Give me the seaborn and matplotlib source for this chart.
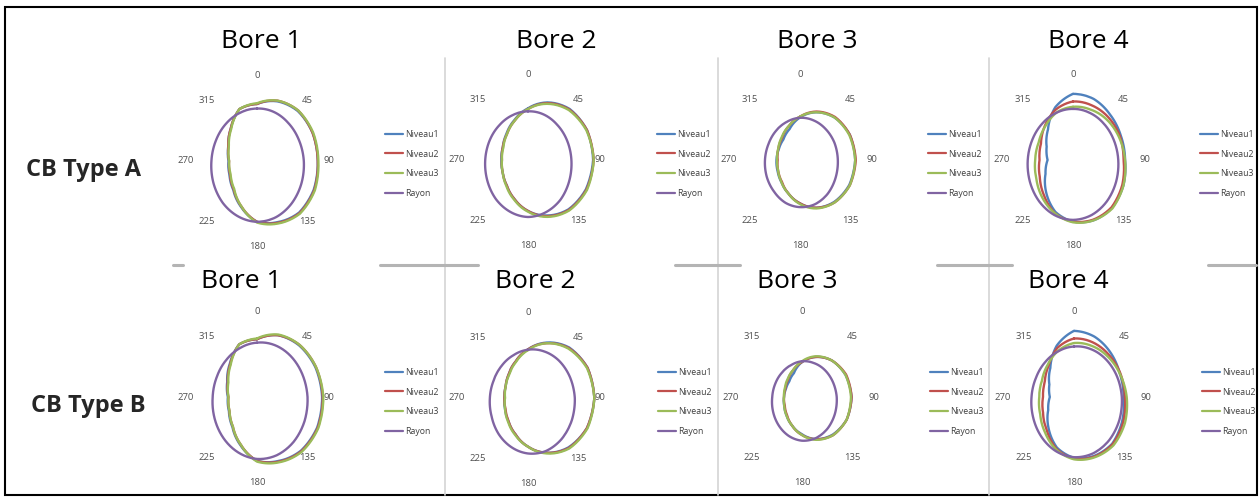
import numpy as np
import pandas as pd
import seaborn as sns
import matplotlib.pyplot as plt
from matplotlib.lines import Line2D
from matplotlib.patches import Rectangle

sns.set_style('white')
plt.rcParams['font.family'] = ['Open Sans', 'DejaVu Sans']

# angles (degrees, clockwise from top) at which the profiles were read
angles = [0, 22.5, 45, 67.5, 90, 112.5, 135, 157.5, 180,
          202.5, 225, 247.5, 270, 292.5, 315, 337.5]
tick_angles = [0, 45, 90, 135, 180, 225, 270, 315]
tick_labels = ['0', '45', '90', '135', '180', '225', '270', '315']
series_names = ['Niveau1', 'Niveau2', 'Niveau3', 'Rayon']
colors = ['#4F81BD', '#C0504D', '#9BBB59', '#8064A2']
bores = ['Bore 1', 'Bore 2', 'Bore 3', 'Bore 4']
row_names = ['CB Type A', 'CB Type B']

# CB Type A
a1_n1 = [0.75, 0.85, 0.93, 0.97, 0.98, 0.99, 0.96, 0.87, 0.80, 0.66, 0.54, 0.48, 0.46, 0.50, 0.60, 0.74]
a1_n2 = [0.75, 0.86, 0.94, 0.97, 0.98, 1.00, 0.97, 0.88, 0.80, 0.65, 0.53, 0.47, 0.45, 0.50, 0.60, 0.74]
a1_n3 = [0.76, 0.86, 0.94, 0.98, 0.99, 1.01, 0.98, 0.89, 0.81, 0.65, 0.52, 0.46, 0.45, 0.49, 0.59, 0.74]
a1_ray = [0.69, 0.70, 0.71, 0.73, 0.755, 0.775, 0.79, 0.80, 0.80, 0.79, 0.78, 0.76, 0.735, 0.715, 0.70, 0.69]

a2_n1 = [0.68, 0.82, 0.95, 1.03, 1.05, 1.01, 0.92, 0.79, 0.67, 0.56, 0.48, 0.44, 0.43, 0.44, 0.49, 0.57]
a2_n2 = [0.67, 0.81, 0.94, 1.03, 1.06, 1.02, 0.93, 0.80, 0.67, 0.56, 0.48, 0.44, 0.42, 0.44, 0.48, 0.56]
a2_n3 = [0.67, 0.80, 0.93, 1.02, 1.06, 1.03, 0.94, 0.81, 0.68, 0.57, 0.49, 0.44, 0.42, 0.43, 0.48, 0.56]
a2_ray = [0.64, 0.65, 0.66, 0.68, 0.70, 0.72, 0.74, 0.745, 0.75, 0.74, 0.73, 0.71, 0.69, 0.67, 0.65, 0.64]

a3_n1 = [0.56, 0.68, 0.79, 0.87, 0.89, 0.86, 0.78, 0.68, 0.57, 0.48, 0.42, 0.39, 0.38, 0.37, 0.38, 0.44]
a3_n2 = [0.57, 0.69, 0.80, 0.87, 0.90, 0.87, 0.79, 0.68, 0.57, 0.48, 0.41, 0.38, 0.36, 0.38, 0.41, 0.48]
a3_n3 = [0.57, 0.68, 0.79, 0.86, 0.89, 0.87, 0.79, 0.69, 0.58, 0.48, 0.42, 0.38, 0.37, 0.38, 0.42, 0.48]
a3_ray = [0.555, 0.565, 0.58, 0.60, 0.61, 0.62, 0.63, 0.63, 0.62, 0.61, 0.59, 0.58, 0.565, 0.55, 0.545, 0.545]

a4_n1 = [0.87, 0.87, 0.845, 0.835, 0.84, 0.88, 0.89, 0.86, 0.81, 0.74, 0.61, 0.48, 0.41, 0.46, 0.57, 0.75]
a4_n2 = [0.77, 0.78, 0.80, 0.82, 0.815, 0.86, 0.88, 0.85, 0.81, 0.76, 0.66, 0.58, 0.54, 0.56, 0.64, 0.72]
a4_n3 = [0.70, 0.72, 0.76, 0.80, 0.84, 0.88, 0.90, 0.86, 0.82, 0.76, 0.70, 0.64, 0.61, 0.60, 0.63, 0.68]
a4_ray = [0.672, 0.676, 0.689, 0.708, 0.73, 0.752, 0.771, 0.784, 0.788, 0.784, 0.771, 0.752, 0.73, 0.708, 0.689, 0.676]

# CB Type B
b1_n1 = [0.76, 0.88, 0.96, 1.02, 1.05, 1.05, 1.00, 0.91, 0.84, 0.69, 0.56, 0.49, 0.47, 0.52, 0.62, 0.75]
b1_n2 = [0.76, 0.88, 0.97, 1.03, 1.06, 1.06, 1.01, 0.92, 0.84, 0.68, 0.55, 0.48, 0.46, 0.51, 0.61, 0.75]
b1_n3 = [0.77, 0.89, 0.97, 1.03, 1.07, 1.07, 1.02, 0.93, 0.85, 0.68, 0.55, 0.48, 0.46, 0.50, 0.60, 0.75]
b1_ray = [0.715, 0.74, 0.765, 0.79, 0.815, 0.83, 0.835, 0.83, 0.815, 0.79, 0.765, 0.74, 0.715, 0.70, 0.695, 0.70]

b2_n1 = [0.64, 0.79, 0.94, 1.04, 1.07, 1.03, 0.92, 0.78, 0.64, 0.52, 0.44, 0.40, 0.38, 0.39, 0.44, 0.52]
b2_n2 = [0.64, 0.78, 0.93, 1.04, 1.07, 1.03, 0.93, 0.78, 0.64, 0.52, 0.44, 0.39, 0.38, 0.39, 0.44, 0.52]
b2_n3 = [0.63, 0.78, 0.92, 1.03, 1.07, 1.04, 0.94, 0.79, 0.64, 0.53, 0.45, 0.40, 0.37, 0.39, 0.43, 0.51]
b2_ray = [0.635, 0.665, 0.70, 0.73, 0.755, 0.765, 0.765, 0.755, 0.73, 0.70, 0.67, 0.635, 0.615, 0.60, 0.60, 0.61]

b3_n1 = [0.46, 0.57, 0.68, 0.76, 0.80, 0.78, 0.70, 0.60, 0.49, 0.41, 0.35, 0.31, 0.29, 0.28, 0.29, 0.34]
b3_n2 = [0.46, 0.57, 0.68, 0.77, 0.80, 0.78, 0.71, 0.60, 0.50, 0.41, 0.34, 0.30, 0.29, 0.29, 0.32, 0.38]
b3_n3 = [0.47, 0.58, 0.68, 0.76, 0.79, 0.78, 0.71, 0.61, 0.50, 0.41, 0.35, 0.31, 0.29, 0.30, 0.33, 0.38]
b3_ray = [0.47, 0.485, 0.51, 0.535, 0.56, 0.575, 0.585, 0.585, 0.575, 0.555, 0.53, 0.505, 0.48, 0.465, 0.455, 0.455]

b4_n1 = [0.87, 0.86, 0.83, 0.80, 0.80, 0.84, 0.87, 0.84, 0.80, 0.72, 0.58, 0.45, 0.39, 0.43, 0.54, 0.73]
b4_n2 = [0.77, 0.78, 0.79, 0.81, 0.82, 0.86, 0.88, 0.85, 0.81, 0.74, 0.62, 0.54, 0.50, 0.51, 0.58, 0.70]
b4_n3 = [0.71, 0.73, 0.76, 0.80, 0.85, 0.89, 0.90, 0.86, 0.82, 0.75, 0.66, 0.59, 0.56, 0.56, 0.60, 0.66]
b4_ray = [0.664, 0.685, 0.713, 0.743, 0.771, 0.792, 0.803, 0.803, 0.792, 0.77, 0.742, 0.712, 0.685, 0.663, 0.653, 0.652]

panels = [
    [[a1_n1, a1_n2, a1_n3, a1_ray], [a2_n1, a2_n2, a2_n3, a2_ray],
     [a3_n1, a3_n2, a3_n3, a3_ray], [a4_n1, a4_n2, a4_n3, a4_ray]],
    [[b1_n1, b1_n2, b1_n3, b1_ray], [b2_n1, b2_n2, b2_n3, b2_ray],
     [b3_n1, b3_n2, b3_n3, b3_ray], [b4_n1, b4_n2, b4_n3, b4_ray]],
]

# layout (pixels)
W, H = 1259, 499
centers = [[(257, 161), (528, 160), (800, 160), (1073, 160)],
           [(257, 397), (528, 398), (802, 397), (1074, 397)]]
title_pos = [[(261, 41), (556, 41), (817, 41), (1088, 41)],
             [(241, 282), (535, 282), (797, 282), (1068, 282)]]
legend_x = [[385, 657, 928, 1200], [385, 658, 930, 1202]]
legend_y = [164, 402]
row_label_pos = [(84, 170), (88, 406)]
rx, ry = 62, 76


def fx(x):
    return x / W


def fy(y):
    return 1 - y / H


def panel_frame(values):
    parts = []
    for name, r in zip(series_names, values):
        theta = np.deg2rad(angles + [360])
        parts.append(pd.DataFrame({'theta': theta, 'r': r + [r[0]], 'series': name}))
    return pd.concat(parts, ignore_index=True)


fig = plt.figure(figsize=(W / 100, H / 100), dpi=100)

# separators
for x in [445, 718, 989]:
    fig.add_artist(Line2D([fx(x), fx(x)], [fy(58), fy(495)], color='#d4d4d4', lw=1.2))
for x0, x1 in [(173, 183), (380, 478), (675, 740), (937, 1012), (1208, 1256)]:
    fig.add_artist(Line2D([fx(x0), fx(x1)], [fy(265), fy(265)], color='#b4b4b4', lw=2.2))

handles = [Line2D([], [], color=c, lw=1.6) for c in colors]

for i in range(2):
    for j in range(4):
        cx, cy = centers[i][j]
        ax = fig.add_axes([fx(cx - rx), fy(cy + ry), 2 * rx / W, 2 * ry / H], projection='polar')
        ax.set_aspect('auto')
        df = panel_frame(panels[i][j])
        sns.lineplot(data=df, x='theta', y='r', hue='series', hue_order=series_names,
                     palette=colors, sort=False, estimator=None, legend=False,
                     linewidth=1.7, ax=ax)
        for line in ax.lines:
            line.set_clip_on(False)
            # follow the polar grid between the read angles instead of straight chords
            line.get_path()._interpolation_steps = 12
        ax.set_theta_zero_location('N')
        ax.set_theta_direction(-1)
        ax.set_thetagrids(tick_angles, tick_labels, fontsize=6.8, color='#505050')
        ax.set_ylim(0, 1)
        ax.set_yticks([])
        ax.grid(False)
        ax.spines['polar'].set_visible(False)
        ax.tick_params(axis='x', pad=0, length=0)
        ax.set_xlabel('')
        ax.set_ylabel('')
        ax.set_facecolor('none')
        ax.legend(handles, series_names, loc='center left',
                  bbox_to_anchor=(fx(legend_x[i][j]), fy(legend_y[i])),
                  bbox_transform=fig.transFigure, frameon=False, fontsize=6.3,
                  handlelength=2.1, handletextpad=0.25, labelspacing=1.25,
                  borderpad=0, borderaxespad=0, labelcolor='#404040')
        tx, ty = title_pos[i][j]
        fig.text(fx(tx), fy(ty), bores[j], fontsize=19, ha='center', va='center', color='black')

for (x, y), name in zip(row_label_pos, row_names):
    fig.text(fx(x), fy(y), name, fontsize=17, fontweight='bold', ha='center', va='center')

fig.add_artist(Rectangle((fx(5), fy(495)), fx(1257) - fx(5), fy(7) - fy(495),
                         transform=fig.transFigure, fill=False, ec='black', lw=1.5))

fig.savefig('out.png', dpi=100)
